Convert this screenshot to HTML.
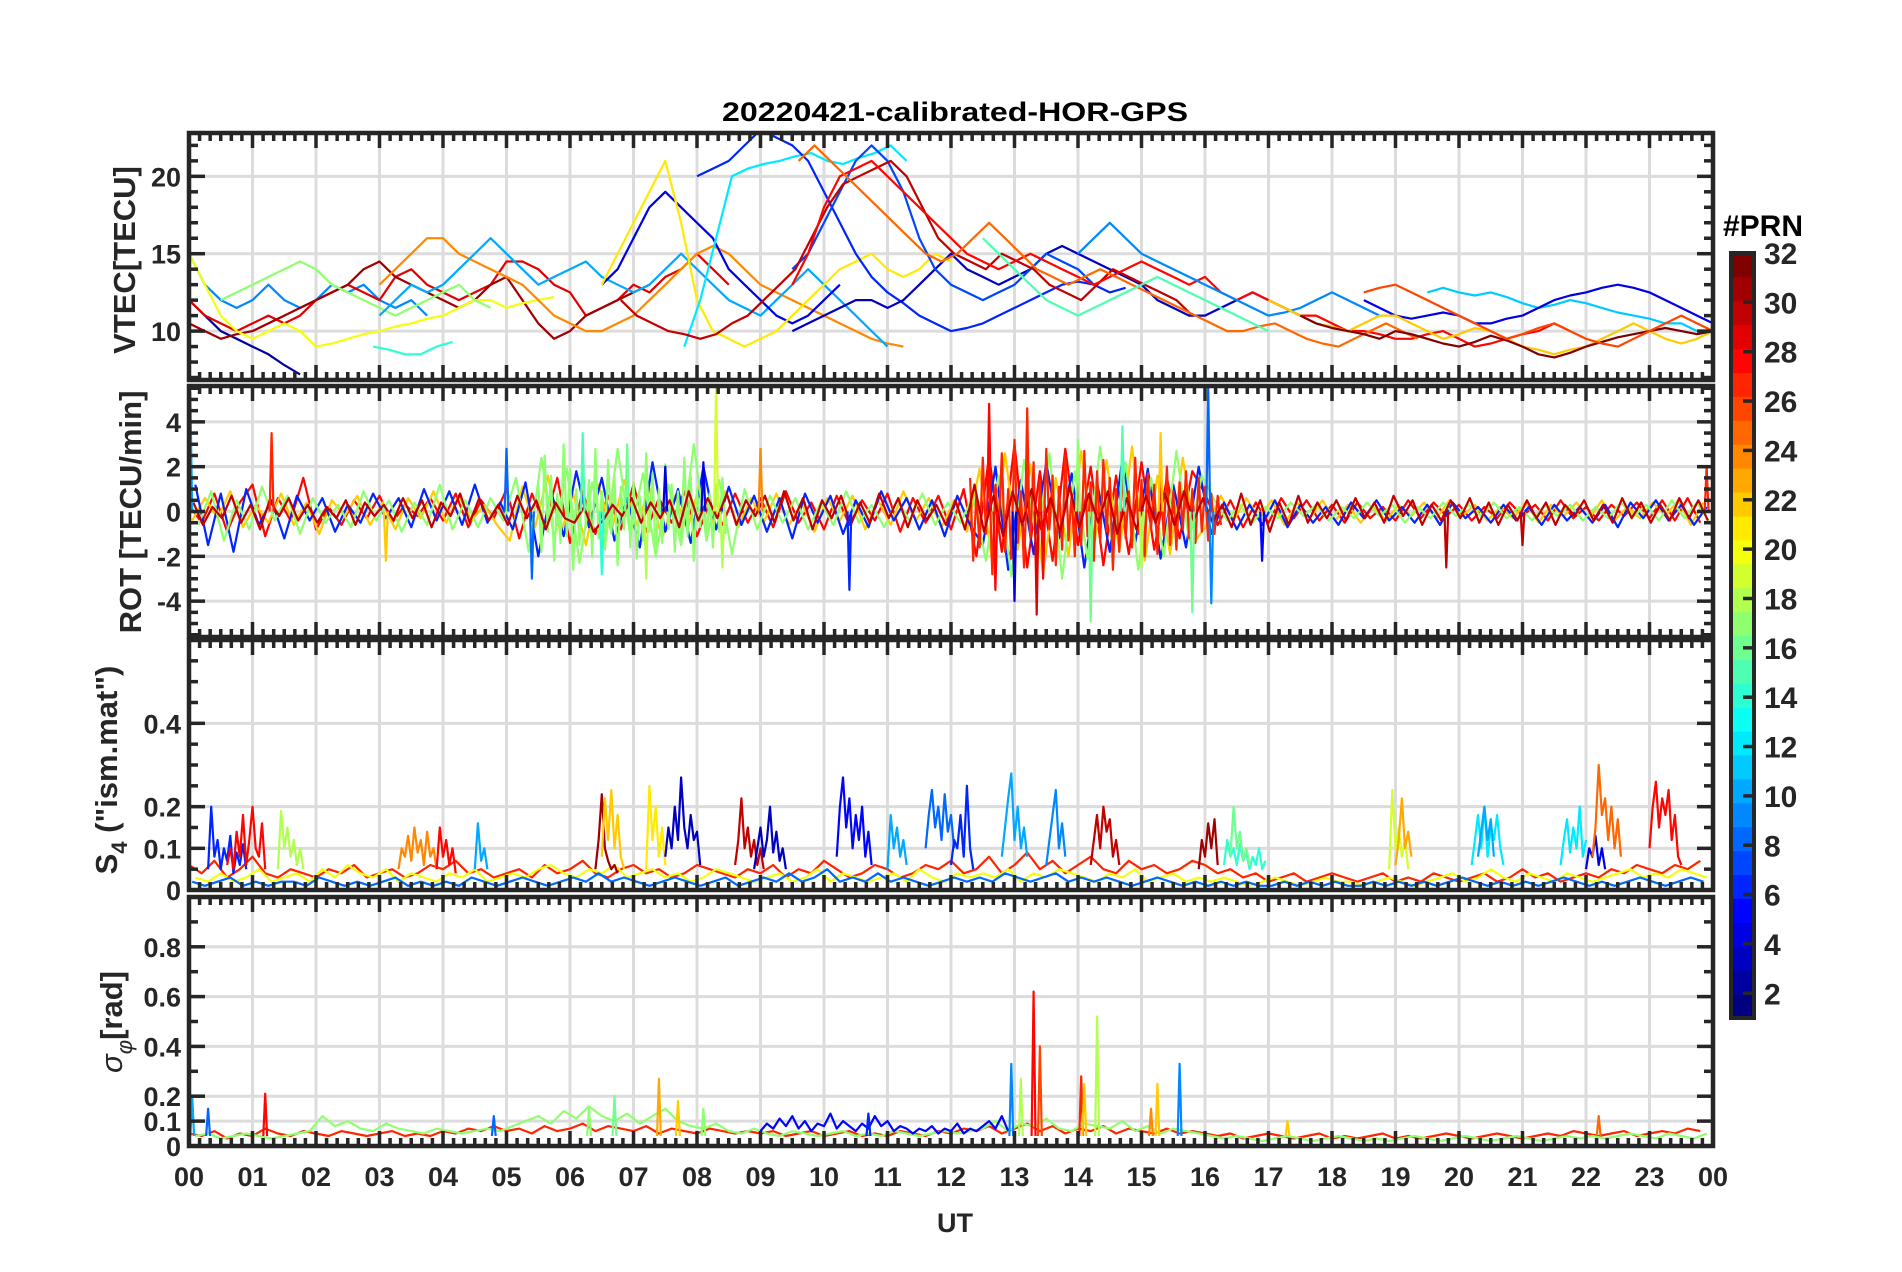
<!DOCTYPE html>
<html><head><meta charset="utf-8"><title>20220421-calibrated-HOR-GPS</title>
<style>
html,body{margin:0;padding:0;background:#fff;}
svg{display:block;font-family:"Liberation Sans",Arial,sans-serif;}
</style></head>
<body>
<svg id="fig" xmlns="http://www.w3.org/2000/svg" width="1902" height="1272" viewBox="0 0 1902 1272">
<rect x="0" y="0" width="1902" height="1272" fill="#fff"/>
<text x="955" y="121" text-anchor="middle" font-size="27" font-weight="bold" fill="#000" textLength="466" lengthAdjust="spacingAndGlyphs">20220421-calibrated-HOR-GPS</text>
<g id="panels"></g>
<text transform="translate(135,260) rotate(-90)" text-anchor="middle" font-size="31" font-weight="bold" fill="#262626">VTEC[TECU]</text>
<text transform="translate(141,512) rotate(-90)" text-anchor="middle" font-size="31" font-weight="bold" fill="#262626">ROT [TECU/min]</text>
<text transform="translate(117,770) rotate(-90)" text-anchor="middle" font-size="31" font-weight="bold" fill="#262626">S<tspan font-size="22" dy="10">4</tspan><tspan dy="-10"> ("ism.mat")</tspan></text>
<text transform="translate(122,1022) rotate(-90)" text-anchor="middle" font-size="31" font-weight="bold" fill="#262626"><tspan font-style="italic" font-weight="normal">σ</tspan><tspan font-size="22" dy="10" font-style="italic" font-weight="normal">φ</tspan><tspan dy="-10">[rad]</tspan></text>
<text x="955" y="1232" text-anchor="middle" font-size="27" font-weight="bold" fill="#262626">UT</text>
<g id="xlabels"></g>
<g id="cbar"></g>
<text x="1763" y="236" text-anchor="middle" font-size="30" font-weight="bold" fill="#000">#PRN</text>
</svg>
<script>
// ---------- data ----------
const hourTickLabels = ["00","01","02","03","04","05","06","07","08","09","10","11","12","13","14","15","16","17","18","19","20","21","22","23","00"];
const cbarTickValues = [2,4,6,8,10,12,14,16,18,20,22,24,26,28,30,32];

// VTEC series (TECU), sampled every 0.25 h from start hour
const vtecPrn = [2,9,29,31,20,17,14,24,10,4,21,12,6,3,7,30,28,25,15,9,11,4,22,32,26];
const vtecStart = [0,0,0,0,0,0.5,2.9,3,3,6.5,6.5,7.8,8,9.5,9.5,6.8,9.5,9.6,12.5,14,19.5,18.5,17,17.5,18.5];
const vtec01 = [12,11,10,9.5,9,8.5,7.8,7.2];
const vtec02 = [15,13,12,11.5,12,13,12,11.5,12,13,12.5,13,12,11.5,12,11];
const vtec03 = [12,11,10.5,10,10.5,11,10.5,11,12,12.5,13,12.5,12,13.5,14,13,12.5,12,12.5,13,14.5,14.5,14,13,12.5,11,11.5,12,13,12.5,13.5,14,15,14,13];
const vtec04 = [10.5,10,9.5,9.8,10,10.5,11,11.5,12,12.5,13,14,14.5,13.5,13,12.5,12,11.5,12,13,13.5,12,10.5,9.5,10,11,11.5,12,12.5,13];
const vtec05 = [15,13,11,10,9.5,10,10.5,10,9,9.2,9.5,9.8,10,10.3,10.5,10.8,11,11.5,12,12,11.5,11.8,12,12.2];
const vtec06 = [12,12.5,13,13.5,14,14.5,14,13,12.5,12,11.5,11,11.5,12,12.5,13,12,11.5];
const vtec07 = [9,8.8,8.5,8.5,9,9.3];
const vtec08 = [13,14,15,16,16,15,14.5,14,13.5,13,12,11,10.5,10,10,10.5,11,12,13,14,15,15.5,15,14,13,12.5,12,11.5,11,10.5,10,9.5,9.2,9];
const vtec09 = [11,12,13,12.5,13,14,15,16,15,14,13,13.5,14,14.5,13.5,13,12.5,13,14,15,14,13,12,11.5,11,12,13,14,13,12,11,10,9];
const vtec10 = [13,14,16,18,19,18,17,16,14,13,12,11,10.5,11,12,13];
const vtec11 = [13,15,17,19,21,17,12,10,9.5,9,9.5,10,11,12,13,14,14.5,15,14,13.5,14,15,14.5];
const vtec12 = [9,12,16,20,20.5,20.8,21,21.3,21.5,21,20.8,21.2,21.5,22,21];
const vtec13 = [20,20.5,21,22,23,22.5,22,21,19,17,15,13.5,12.5,11.8,11,10.5,10,10.2,10.5,11,11.5,12,12.5,13,13.2,13,12.5,12.8];
const vtec14 = [10,10.5,11,11.5,12,12,11.5,12,13,14,15,14,13.5,13,13.5,14,15,15.5,15,14.5,14,13.5,13,12,11.5,11,11,11.5,12,12.5,12,11.5,11];
const vtec15 = [14,15,17,19,21,22,21,19,16,14,13,12.5,12,12.5,13,14,15,14.5,14,13];
const vtec16 = [12,11,10.5,10,9.8,9.5,9.8,10.5,11,12,13,14,16,18,19.5,20,20.5,21,20,18,16,15,14.5,14,15,14.5,14,13,12.5,12,13,14,13.5,13,12.5,12,11];
const vtec17 = [13,15,18,20,20.5,21,20,19,18,17,16,15,14.5,14,14.5,15,14.5,14,13.5,13,13.5,14,14.5,14,13.5,13,13.5,12.5,12,12.5,12,11.5,11,11,10.5,10,10,9.8,9.5,9.5,9.8,10,9.5,9,9.2,9.5,9.8,10,10.5,10];
const vtec18 = [21,22,21,20,19,18,17,16,15,14.5,15,16,17,16,15,14,13.5,13,13.5,14,13.5,13,12.5,12,11.5,11,10.5,10,10,10.3,10.5,10,9.5,9.2,9,9.5,10,10.5,10,9.5];
const vtec19 = [16,15,14,13,12,11.5,11,11.5,12,12.5,13,13.5,13,12.5,12,11.5,11,10.5,10];
const vtec20 = [15,16,17,16,15,14.5,14,13.5,13,12.5,12,11.5,11,11.2,11.5,12,12.5,12,11.5,11];
const vtec21 = [12.5,12.8,12.5,12.3,12.5,12.2,11.8,11.5,11.7,12,11.8,11.5,11.2,11,10.8,10.5,10.5,10];
const vtec22 = [12,11.5,11,10.8,11,11.2,11,10.5,10.5,10.8,11,11.5,12,12.3,12.5,12.8,13,12.8,12.5,12,11.5,11,10.5,10,9.5,9,8.5,8,7.5,8,8.5,9,9.5,10,10.5,11];
const vtec23 = [12,11.5,11,10.5,10.3,10,10.5,11,11,10.5,10,9.5,9.8,10.2,10,9.5,9,8.8,8.5,8.8,9,9.5,10,10.5,10,9.5,9.2,9.5,10,10.5,11,11.5];
const vtec24 = [11,10.5,10.2,10,9.8,9.5,10,9.8,9.5,9.2,9,9.3,9.7,9.4,9,8.5,8.3,8.6,9,9.3,9.6,9.8,10,10.2,10,9.8,10,10.3,10.5];
const vtec25 = [12.5,12.8,13,12.5,12,11.5,11,10.5,10,9.5,9.8,10.2,10.5,10,9.5,9.2,9,9.5,10,10.5,11,10.5,10,9.5,10,10.5,11];

// ROT series (TECU/min)
const rotPrn = [28,22,6,17,30,27,17];
const rotStart = [0,0.05,0.1,0.15,0.07,12.3,5.5];
const rotStep = [0.2,0.2,0.2,0.2,0.15,0.05,0.05];
const rotA = [0.3,-0.5,0.8,-0.9,0.4,1.2,-1.1,0.6,-0.4,1.5,-0.8,0.2,-0.6,0.5,-0.3,0.7,-0.5,0.3,-0.2,0.6,-0.4,0.8,-0.7,0.5,-0.3,1.0,-1.2,0.8,-0.6,1.5,-1.4,0.9,-1.0,0.7,-0.8,1.2,-0.9,0.6,-0.5,0.9,-1.1,0.4,-0.6,0.8,-0.5,0.6,-0.7,0.9,-0.5,0.4,-0.8,0.7,-0.6,0.5,-0.4,0.8,-0.9,0.6,-0.5,0.7,-0.8,1.0,-2.0,2.5,-1.8,3.0,-2.5,1.8,-2.2,2.8,-1.5,2.0,-2.4,1.6,-1.9,2.2,-1.7,1.5,-1.2,1.8,0.8,-0.6,0.5,-0.7,0.4,-0.5,0.6,-0.3,0.5,-0.4,0.3,-0.5,0.4,-0.3,0.2,-0.4,0.5,-0.3,0.4,-0.2,0.3,-0.4,0.2,-0.3,0.4,-0.2,0.3,-0.4,0.5,-0.3,0.2,-0.4,0.3,-0.2,0.4,-0.3,0.5,-0.4,0.6,-0.5];
const rotB = [-0.4,0.6,-0.3,0.9,-0.7,0.3,-0.5,0.8,-0.6,0.4,-1.0,0.5,-0.2,0.7,-0.6,0.4,-0.8,0.6,-0.3,0.9,-0.5,0.7,-0.4,0.3,-0.6,-1.3,1.1,-0.7,1.6,-1.0,0.8,-1.5,1.2,-0.9,1.4,-0.6,1.0,-1.2,0.7,-0.8,1.3,-0.5,0.9,-0.7,0.6,-0.5,0.8,-0.6,0.4,-0.9,0.6,-0.4,0.7,-0.8,0.5,-0.6,0.9,-0.4,0.6,-0.7,0.5,-0.9,1.9,-2.3,2.6,-1.7,2.1,-2.8,1.5,-2.0,2.7,-1.6,2.3,-1.8,2.9,-2.2,1.6,-1.9,2.4,-1.3,-0.5,0.7,-0.4,0.6,-0.3,0.5,-0.6,0.4,-0.3,0.5,-0.4,0.3,-0.5,0.2,-0.4,0.3,-0.2,0.4,-0.3,0.5,-0.2,0.3,-0.4,0.2,-0.3,0.4,-0.5,0.3,-0.2,0.4,-0.3,0.5,-0.4,0.2,-0.3,0.4,-0.2,0.5,-0.6,0.4];
const rotC = [1.2,-1.5,0.8,-1.8,1.0,-0.6,0.5,-1.2,0.7,-0.4,0.6,-0.9,0.3,-0.5,0.8,-0.3,0.6,-0.7,1.0,-0.4,0.9,-0.6,1.2,-0.5,0.4,-0.8,1.3,-2.0,0.9,-1.1,1.8,-0.7,1.5,-1.3,0.6,-1.6,2.2,-0.9,1.0,-1.4,2.0,-0.8,1.1,-0.6,0.7,-0.9,0.6,-1.2,0.8,-0.5,0.7,-1.0,0.5,-0.7,0.9,-0.4,0.6,-0.8,0.5,-1.1,0.7,-0.6,-1.5,2.0,-2.6,1.4,-1.9,2.2,-1.2,1.7,-2.5,1.3,-1.8,2.4,-1.4,1.9,-2.1,1.2,-1.6,2.0,-1.0,0.4,-0.8,0.3,-0.6,0.5,-0.7,0.3,-0.5,0.2,-0.6,0.4,-0.3,0.5,-0.4,0.2,-0.5,0.3,-0.6,0.4,-0.3,0.2,-0.5,0.3,-0.4,0.2,-0.6,0.3,-0.4,0.2,-0.5,0.3,-0.7,0.4,-0.3,0.5,-0.4,0.3,-0.6,0.2];
const rotD = [-0.6,0.9,-1.3,0.5,-0.8,1.1,-0.4,0.7,-1.0,0.6,-0.5,0.3,-0.7,0.9,-0.4,0.5,-0.9,0.4,-0.6,1.2,-0.8,0.5,-0.7,0.6,-0.4,1.5,-1.8,2.4,-1.2,1.9,-2.3,1.3,-1.6,2.8,-1.1,1.7,-2.0,1.2,-1.5,3.0,-1.3,1.4,-1.9,1.0,-0.8,0.7,-0.5,0.6,-0.8,0.4,-0.6,0.9,-0.5,0.3,-0.7,0.5,-0.4,0.8,-0.6,0.4,-0.5,0.7,-2.2,1.6,-2.9,2.3,-1.4,2.6,-3.0,1.8,-2.1,2.9,-1.7,2.2,-2.6,1.5,-2.0,2.7,-1.3,1.6,0.5,-0.4,0.3,-0.5,0.2,-0.3,0.4,-0.2,0.3,-0.4,0.2,-0.3,0.4,-0.2,0.3,-0.5,0.2,-0.3,0.4,-0.2,0.3,-0.2,0.4,-0.3,0.2,-0.4,0.3,-0.2,0.3,-0.4,0.2,-0.3,0.4,-0.2,0.3,-0.4,0.5,-0.3,0.4,-0.5];
const rotE = [0.4,-0.6,0.2,-0.3,0.7,-0.5,0.3,-0.8,0.5,-0.2,0.6,-0.4,0.3,-0.5,0.2,-0.3,0.5,-0.6,0.4,-0.2,0.3,-0.4,0.6,-0.3,0.5,-0.7,0.4,-0.2,0.8,-0.5,0.6,-0.4,0.3,-0.6,0.7,-0.3,0.5,-0.8,0.4,-0.3,-0.5,0.2,-0.9,-0.4,0.3,-0.2,0.6,-0.5,0.4,-0.3,0.5,-0.7,0.9,-0.4,0.6,-0.3,0.8,-0.6,0.5,-0.2,0.7,-0.5,0.9,-0.4,0.6,-0.8,0.5,-0.3,0.7,-0.6,0.4,-0.5,0.8,-0.3,0.6,-0.7,0.5,-0.4,0.3,-0.6,0.5,-0.8,1.2,-0.9,0.7,-1.1,0.9,-0.6,1.0,-0.8,0.6,-0.9,1.1,-0.7,0.8,-0.5,0.9,-1.0,0.6,-0.8,0.7,-0.5,0.8,-0.6,0.9,-0.4,0.6,-0.5,0.3,-0.7,0.8,-0.6,0.5,-0.9,0.4,-0.6,0.7,-0.5,0.4,-0.3,0.5,-0.4,0.6,-0.3,0.4,-0.5,0.7,-0.2,0.5,-0.6,0.3,-0.4,0.5,-0.3,0.6,-0.5,0.4,-0.6,0.3,-0.4,0.5,-0.3,0.4,-0.6,0.3,-0.2,0.5,-0.4,0.3,-0.5,0.6,-0.3,0.4,-0.5,0.3,-0.4,0.6,-0.3,0.5,-0.4];
const rotF = [1.5,-2.2,0.8,-1.6,2.4,-1.0,1.9,-2.8,1.2,-0.9,2.6,-1.8,1.0,-2.1,3.2,-1.4,0.9,-2.5,1.7,-1.2,2.2,-3.1,1.4,-1.9,2.8,-0.8,1.6,-2.4,1.1,-1.7,2.5,-1.3,0.8,-2.0,1.9,-1.5,2.7,-1.1,1.3,-2.2,1.8,-1.4,2.3,-0.9,1.5,-2.6,1.0,-1.8,2.1,-1.2,0.9,-1.6,2.4,-1.0,1.4,-2.0,1.7,-0.8,1.2,-1.9,1.6,-1.1,2.0,-1.5,0.9,-1.7,1.3,-0.8,1.8,-1.2,1.0,-1.4,1.5,-0.9,1.1,-1.3,0.8,-1.0,0.7,-0.6];
const rotG = [1.2,-1.8,2.5,-0.9,1.6,-2.2,0.8,-1.4,3.0,-1.1,1.9,-2.6,1.0,-1.5,2.2,-0.7,1.4,-2.0,2.8,-1.2,0.9,-1.7,2.3,-1.0,1.5,-2.4,1.1,-0.8,2.0,-1.6,1.3,-2.1,0.7,-1.3,2.6,-0.9,1.7,-1.9,1.0,-1.4,2.1,-0.8,1.2,-1.8,0.9,-1.5,2.4,-1.1,1.6,-2.2,1.0,-0.7,1.8,-1.3,0.8,-1.6,1.2,-0.9,1.5,-1.0];
// ROT spikes: hour, value, prn
const rotSpikeHour = [0.02,1.3,3.1,5.0,5.4,6.2,6.5,6.9,7.2,7.5,8.1,8.3,8.4,9.0,10.4,12.6,12.7,13.0,13.2,13.35,13.45,14.0,14.2,14.7,15.0,15.3,15.8,16.05,16.1,16.9,19.8,21.0,23.9];
const rotSpikeValue = [5.3,3.5,-2.2,2.8,-3,3.5,-2.8,3.0,-3,2.0,2.2,5.6,-2.5,2.8,-3.5,4.8,-3.5,-4.0,4.6,-4.6,-3.0,3.2,-4.9,3.8,-2.5,3.5,-4.5,5.6,-4.1,-2.2,-2.5,-1.5,2.0];
const rotSpikePrn = [10,27,22,8,8,15,14,16,18,4,4,19,18,24,6,28,28,4,27,29,28,17,16,15,18,22,16,8,9,5,30,30,27];

// S4 background series, every 0.2 h
const s4BgPrn = [27,20,8];
const s4BgStart = [0,0.1,0.05];
const s4A = [0.06,0.04,0.07,0.03,0.05,0.08,0.04,0.03,0.05,0.04,0.03,0.05,0.04,0.06,0.03,0.04,0.05,0.03,0.04,0.06,0.05,0.07,0.04,0.05,0.03,0.04,0.05,0.03,0.06,0.04,0.05,0.07,0.04,0.03,0.05,0.06,0.04,0.05,0.03,0.04,0.06,0.05,0.04,0.03,0.05,0.04,0.06,0.03,0.05,0.04,0.07,0.05,0.03,0.04,0.06,0.05,0.03,0.04,0.06,0.05,0.07,0.04,0.05,0.08,0.04,0.06,0.09,0.05,0.07,0.04,0.06,0.08,0.05,0.04,0.07,0.05,0.06,0.04,0.05,0.07,0.06,0.04,0.05,0.03,0.04,0.02,0.03,0.04,0.02,0.03,0.04,0.03,0.02,0.03,0.04,0.02,0.03,0.02,0.04,0.03,0.02,0.03,0.04,0.02,0.03,0.05,0.03,0.04,0.02,0.03,0.04,0.03,0.05,0.04,0.06,0.05,0.04,0.06,0.05,0.07];
const s4B = [0.03,0.02,0.04,0.02,0.03,0.05,0.02,0.03,0.04,0.02,0.05,0.03,0.06,0.04,0.03,0.05,0.02,0.04,0.03,0.02,0.04,0.03,0.05,0.02,0.03,0.04,0.03,0.05,0.06,0.04,0.03,0.05,0.04,0.06,0.03,0.04,0.05,0.03,0.04,0.02,0.03,0.05,0.04,0.03,0.02,0.03,0.04,0.02,0.03,0.05,0.02,0.04,0.03,0.02,0.03,0.04,0.02,0.05,0.03,0.02,0.04,0.03,0.04,0.03,0.05,0.02,0.04,0.03,0.05,0.04,0.03,0.02,0.04,0.03,0.05,0.02,0.03,0.04,0.02,0.03,0.02,0.03,0.02,0.01,0.02,0.03,0.02,0.01,0.02,0.03,0.02,0.02,0.01,0.02,0.03,0.02,0.01,0.02,0.03,0.04,0.02,0.03,0.05,0.03,0.02,0.04,0.03,0.02,0.04,0.03,0.02,0.03,0.04,0.05,0.03,0.04,0.03,0.05,0.04,0.03];
const s4C = [0.02,0.01,0.02,0.03,0.01,0.02,0.01,0.02,0.02,0.01,0.03,0.02,0.01,0.02,0.01,0.02,0.03,0.01,0.02,0.01,0.02,0.01,0.03,0.02,0.01,0.02,0.03,0.02,0.01,0.02,0.03,0.02,0.04,0.02,0.03,0.02,0.01,0.02,0.03,0.02,0.01,0.02,0.03,0.01,0.02,0.03,0.02,0.04,0.02,0.03,0.05,0.02,0.03,0.02,0.04,0.02,0.03,0.02,0.01,0.02,0.03,0.02,0.03,0.02,0.04,0.03,0.02,0.03,0.04,0.02,0.03,0.02,0.03,0.02,0.01,0.02,0.03,0.02,0.01,0.02,0.01,0.02,0.01,0.02,0.01,0.01,0.02,0.01,0.02,0.01,0.02,0.01,0.01,0.02,0.01,0.02,0.01,0.02,0.01,0.02,0.03,0.02,0.01,0.02,0.01,0.02,0.01,0.02,0.03,0.02,0.01,0.02,0.01,0.02,0.03,0.02,0.01,0.02,0.03,0.02];
// S4 bursts, every 0.05 h
const s4BurstPrn = [6,28,18,24,28,10,31,22,21,3,30,3,5,10,8,6,10,9,30,31,14,16,19,23,12,10,12,4,25,28];
const s4BurstStart = [0.3,0.6,1.4,3.3,3.9,4.5,6.4,6.5,7.2,7.5,8.6,8.9,10.2,11.0,11.6,12.0,12.8,13.5,14.2,15.9,16.3,16.4,18.9,19.0,20.2,20.3,21.6,22.0,22.1,23.0];
const s4Burst01 = [0.05,0.2,0.08,0.12,0.05,0.1,0.07,0.13,0.04,0.09,0.06,0.11,0.05];
const s4Burst02 = [0.06,0.1,0.05,0.14,0.08,0.18,0.06,0.12,0.2,0.1,0.08,0.16,0.05];
const s4Burst03 = [0.05,0.19,0.1,0.15,0.08,0.12,0.06,0.1,0.05];
const s4Burst04 = [0.05,0.1,0.08,0.13,0.07,0.15,0.09,0.12,0.06,0.14,0.08,0.1,0.05];
const s4Burst05 = [0.05,0.15,0.08,0.12,0.06,0.1,0.04];
const s4Burst06 = [0.05,0.16,0.07,0.1,0.05];
const s4Burst07 = [0.05,0.12,0.23,0.1,0.07,0.05,0.06,0.04];
const s4Burst08 = [0.08,0.22,0.12,0.24,0.1,0.18,0.08,0.05];
const s4Burst09 = [0.05,0.25,0.12,0.2,0.08,0.15,0.06];
const s4Burst10 = [0.08,0.15,0.1,0.2,0.12,0.27,0.15,0.1,0.18,0.12,0.14,0.06];
const s4Burst11 = [0.06,0.12,0.22,0.1,0.15,0.08,0.12,0.06,0.1,0.05];
const s4Burst12 = [0.05,0.1,0.15,0.08,0.12,0.2,0.09,0.14,0.07,0.1,0.05];
const s4Burst13 = [0.08,0.2,0.27,0.15,0.22,0.1,0.18,0.12,0.2,0.08,0.14,0.06];
const s4Burst14 = [0.05,0.18,0.1,0.15,0.08,0.12,0.06];
const s4Burst15 = [0.1,0.18,0.24,0.15,0.2,0.12,0.23,0.14,0.18,0.1];
const s4Burst16 = [0.06,0.12,0.1,0.18,0.08,0.25,0.1,0.05];
const s4Burst17 = [0.08,0.15,0.22,0.28,0.12,0.2,0.1,0.15,0.08];
const s4Burst18 = [0.06,0.12,0.18,0.24,0.1,0.16,0.08];
const s4Burst19 = [0.06,0.12,0.18,0.1,0.2,0.14,0.17,0.08,0.12,0.06];
const s4Burst20 = [0.05,0.12,0.08,0.16,0.1,0.17,0.06];
const s4Burst21 = [0.06,0.12,0.08,0.1,0.06,0.11,0.07,0.09,0.05,0.08,0.06,0.1,0.05,0.07];
const s4Burst22 = [0.08,0.2,0.1,0.14,0.07,0.1,0.06];
const s4Burst23 = [0.05,0.24,0.1,0.15,0.08,0.12,0.05];
const s4Burst24 = [0.06,0.12,0.22,0.1,0.14,0.08];
const s4Burst25 = [0.06,0.12,0.18,0.1,0.2,0.08,0.15,0.12,0.18,0.1,0.06];
const s4Burst26 = [0.08,0.14,0.2,0.12,0.17,0.08];
const s4Burst27 = [0.06,0.12,0.17,0.09,0.15,0.1,0.2,0.08,0.12];
const s4Burst28 = [0.05,0.1,0.08,0.13,0.06,0.1,0.05];
const s4Burst29 = [0.08,0.15,0.3,0.18,0.22,0.12,0.2,0.1,0.17,0.08];
const s4Burst30 = [0.1,0.2,0.26,0.15,0.22,0.18,0.24,0.12,0.18,0.08,0.06];

// sigma-phi series (rad)
const sigPrn = [27,17,5];
const sigStart = [0,0.1,9];
const sigStep = [0.2,0.2,0.1];
const sigA = [0.05,0.04,0.06,0.03,0.05,0.04,0.07,0.05,0.04,0.06,0.05,0.04,0.06,0.05,0.04,0.05,0.06,0.04,0.05,0.04,0.06,0.05,0.07,0.06,0.08,0.06,0.07,0.05,0.08,0.06,0.07,0.09,0.06,0.08,0.07,0.06,0.08,0.05,0.07,0.06,0.05,0.07,0.06,0.05,0.06,0.05,0.06,0.04,0.05,0.06,0.04,0.05,0.06,0.04,0.05,0.04,0.06,0.05,0.04,0.06,0.05,0.07,0.06,0.08,0.05,0.07,0.09,0.06,0.08,0.05,0.07,0.06,0.08,0.05,0.07,0.06,0.05,0.07,0.05,0.06,0.05,0.04,0.05,0.03,0.04,0.05,0.04,0.03,0.04,0.05,0.03,0.04,0.03,0.04,0.05,0.03,0.04,0.03,0.04,0.05,0.04,0.03,0.04,0.05,0.04,0.03,0.04,0.05,0.04,0.06,0.05,0.04,0.05,0.06,0.04,0.05,0.06,0.05,0.07,0.06];
const sigB = [0.04,0.05,0.03,0.04,0.05,0.04,0.03,0.04,0.05,0.06,0.12,0.08,0.1,0.07,0.06,0.09,0.07,0.06,0.05,0.07,0.06,0.05,0.06,0.07,0.06,0.08,0.1,0.12,0.09,0.14,0.11,0.16,0.12,0.1,0.13,0.09,0.12,0.15,0.1,0.08,0.07,0.09,0.06,0.05,0.07,0.05,0.04,0.06,0.05,0.04,0.05,0.06,0.04,0.05,0.04,0.06,0.05,0.04,0.05,0.06,0.05,0.06,0.07,0.1,0.06,0.09,0.08,0.11,0.07,0.06,0.09,0.08,0.07,0.1,0.06,0.08,0.05,0.07,0.06,0.05,0.04,0.03,0.04,0.03,0.02,0.03,0.04,0.03,0.02,0.03,0.04,0.03,0.02,0.03,0.02,0.03,0.04,0.03,0.02,0.03,0.04,0.03,0.02,0.03,0.04,0.03,0.02,0.03,0.04,0.03,0.04,0.03,0.04,0.05,0.04,0.03,0.05,0.04,0.03,0.05];
const sigC = [0.06,0.09,0.07,0.11,0.08,0.12,0.07,0.1,0.06,0.09,0.08,0.13,0.07,0.1,0.08,0.06,0.09,0.07,0.12,0.08,0.1,0.06,0.08,0.07,0.05,0.07,0.06,0.08,0.05,0.07,0.06,0.09,0.05,0.07,0.06,0.08,0.1,0.07,0.12,0.06];
const sigSpikeHour = [0.05,0.3,1.2,4.8,6.3,6.7,7.4,7.7,8.1,10.7,12.95,13.1,13.3,13.4,14.05,14.1,14.3,15.15,15.25,15.6,17.3,22.2];
const sigSpikeValue = [0.2,0.15,0.21,0.12,0.15,0.2,0.27,0.18,0.15,0.13,0.33,0.27,0.62,0.4,0.28,0.25,0.52,0.15,0.25,0.33,0.1,0.12];
const sigSpikePrn = [10,8,28,8,17,16,23,22,17,6,9,18,28,26,27,22,18,24,22,9,22,25];

// ---------- layout ----------
const NS = "http://www.w3.org/2000/svg";
const X0 = 189, X1 = 1713;
const panels = [
  {name:"vtec", top:133, bot:380, min:6.84, max:22.8, ticks:[10,15,20], labels:["10","15","20"], minor:1},
  {name:"rot", top:386, bot:637, min:-5.6, max:5.6, ticks:[-4,-2,0,2,4], labels:["-4","-2","0","2","4"], minor:0.5},
  {name:"s4", top:640, bot:890, min:0, max:0.6, ticks:[0,0.1,0.2,0.4], labels:["0","0.1","0.2","0.4"], minor:0.05},
  {name:"sigma", top:897, bot:1146, min:0, max:1, ticks:[0,0.1,0.2,0.4,0.6,0.8], labels:["0","0.1","0.2","0.4","0.6","0.8"], minor:0.1}
];
function xScale(h){ return X0 + h*(X1-X0)/24; }
function yScale(p,v){ return p.bot - (v-p.min)/(p.max-p.min)*(p.bot-p.top); }
function jet(prn){
  const v=(prn-1)/31;
  const c=t=>Math.round(255*Math.max(0,Math.min(1,t)));
  return `rgb(${c(1.5-Math.abs(4*v-3))},${c(1.5-Math.abs(4*v-2))},${c(1.5-Math.abs(4*v-1))})`;
}
function mk(tag,attrs,parent){ const e=document.createElementNS(NS,tag); for(const k in attrs) e.setAttribute(k,attrs[k]); parent.appendChild(e); return e; }

const root = document.getElementById("panels");
const layers = [];
panels.forEach((p,i)=>{
  const g = mk("g",{},root);
  
  
  const cp = mk("clipPath",{id:"clip"+i},g);
  mk("rect",{x:X0,y:p.top,width:X1-X0,height:p.bot-p.top},cp);
  const grid = mk("g",{stroke:"#dcdcdc","stroke-width":"3"},g);
  
  
  for(let h=1;h<24;h++) mk("line",{x1:xScale(h),x2:xScale(h),y1:p.top,y2:p.bot},grid);
  p.ticks.forEach(t=>{ const y=yScale(p,t); if(y>p.top+2&&y<p.bot-2) mk("line",{x1:X0,x2:X1,y1:y,y2:y},grid); });
  const data = mk("g",{"clip-path":`url(#clip${i})`,fill:"none","stroke-width":"2.2","stroke-linejoin":"round"},g);
  
  
  layers.push({g,data,p});
});

function drawSeries(L, prn, t0, dt, vals, name){
  const pts = vals.map((v,k)=>xScale(t0+k*dt).toFixed(1)+","+yScale(L.p,v).toFixed(1)).join(" ");
  const pl = mk("polyline",{points:pts,stroke:jet(prn)},L.data);
  
  
}
function drawSpike(L, prn, h, v, base, w, name){
  const pts = [[h-w,base],[h,v],[h+w,base]].map(q=>xScale(q[0]).toFixed(1)+","+yScale(L.p,q[1]).toFixed(1)).join(" ");
  const pl = mk("polyline",{points:pts,stroke:jet(prn)},L.data);
  
  
}

// VTEC
const vtecVals=[vtec01,vtec02,vtec03,vtec04,vtec05,vtec06,vtec07,vtec08,vtec09,vtec10,vtec11,vtec12,vtec13,vtec14,vtec15,vtec16,vtec17,vtec18,vtec19,vtec20,vtec21,vtec22,vtec23,vtec24,vtec25];
vtecVals.forEach((v,k)=>drawSeries(layers[0],vtecPrn[k],vtecStart[k],0.25,v,'vtec-prn'+vtecPrn[k]));
// ROT
[rotA,rotB,rotC,rotD,rotG,rotF,rotE].forEach((v,k)=>{
  const idx=[0,1,2,3,6,5,4][k];
  drawSeries(layers[1],rotPrn[idx],rotStart[idx],rotStep[idx],v,'rot-prn'+rotPrn[idx]);
});
rotSpikeHour.forEach((h,k)=>drawSpike(layers[1],rotSpikePrn[k],h,rotSpikeValue[k],0,0.03,'rot-spike'));
// S4
[s4A,s4B,s4C].forEach((v,k)=>drawSeries(layers[2],s4BgPrn[k],s4BgStart[k],0.2,v,'s4-prn'+s4BgPrn[k]));
const s4Bursts=[s4Burst01,s4Burst02,s4Burst03,s4Burst04,s4Burst05,s4Burst06,s4Burst07,s4Burst08,s4Burst09,s4Burst10,s4Burst11,s4Burst12,s4Burst13,s4Burst14,s4Burst15,s4Burst16,s4Burst17,s4Burst18,s4Burst19,s4Burst20,s4Burst21,s4Burst22,s4Burst23,s4Burst24,s4Burst25,s4Burst26,s4Burst27,s4Burst28,s4Burst29,s4Burst30];
s4Bursts.forEach((v,k)=>drawSeries(layers[2],s4BurstPrn[k],s4BurstStart[k],0.05,v,'s4-burst-prn'+s4BurstPrn[k]));
// sigma
[sigA,sigB,sigC].forEach((v,k)=>drawSeries(layers[3],sigPrn[k],sigStart[k],sigStep[k],v,'sigma-prn'+sigPrn[k]));
sigSpikeHour.forEach((h,k)=>drawSpike(layers[3],sigSpikePrn[k],h,sigSpikeValue[k],0.04,0.03,'sigma-spike'));

// axes: frame, ticks, labels
layers.forEach(L=>{
  const p=L.p, g=L.g;
  const ax = mk("g",{stroke:"#262626","stroke-width":"3.5"},g);
  
  
  for(let m=0;m<=24*6;m++){
    const x=xScale(m/6), len=(m%6===0)?15:8;
    mk("line",{x1:x,x2:x,y1:p.top,y2:p.top+len},ax);
    mk("line",{x1:x,x2:x,y1:p.bot,y2:p.bot-len},ax);
  }
  const nMinor=Math.round((p.max-p.min)/p.minor)+2;
  const start=Math.ceil(p.min/p.minor-1e-6);
  for(let k=start;k<start+nMinor;k++){
    const v=k*p.minor; if(v>p.max+1e-9) break;
    const y=yScale(p,v);
    const major=p.ticks.some(t=>Math.abs(t-v)<1e-6), len=major?16:9;
    mk("line",{x1:X0,x2:X0+len,y1:y,y2:y},ax);
    mk("line",{x1:X1,x2:X1-len,y1:y,y2:y},ax);
  }
  mk("rect",{x:X0,y:p.top,width:X1-X0,height:p.bot-p.top,fill:"none","stroke-width":"4.5"},ax);
  p.ticks.forEach((t,k)=>{
    const tx=mk("text",{x:X0-8,y:yScale(p,t)+10,"text-anchor":"end","font-size":"27","font-weight":"bold",fill:"#262626"},g);
    tx.textContent=p.labels[k];
    
    
  });
});
const xl=document.getElementById("xlabels");
hourTickLabels.forEach((s,k)=>{
  const t=mk("text",{x:xScale(k),y:1186,"text-anchor":"middle","font-size":"27","font-weight":"bold",fill:"#262626"},xl);
  t.textContent=s;
  
  
});

// colorbar
const cb=document.getElementById("cbar");
const CBX=1731, CBW=23, CBT=253, CBB=1018;
function cbY(v){ return CBB-(v-1)/31*(CBB-CBT); }
for(let k=1;k<=32;k++){
  const y0=CBB-(k-1)*(CBB-CBT)/32, y1=CBB-k*(CBB-CBT)/32;
  const r=mk("rect",{x:CBX,y:y1,width:CBW,height:y0-y1+0.5,fill:jet(k)},cb);
  
  
}
mk("rect",{x:CBX,y:CBT,width:CBW,height:CBB-CBT,fill:"none",stroke:"#262626","stroke-width":"4"},cb);
cbarTickValues.forEach(v=>{
  const y=cbY(v);
  mk("line",{x1:CBX+CBW,x2:CBX+CBW-11,y1:y,y2:y,stroke:"#262626","stroke-width":"3.5"},cb);
  const t=mk("text",{x:CBX+CBW+10,y:y+11,"font-size":"30","font-weight":"bold",fill:"#262626"},cb);
  t.textContent=String(v);
  
  
});
</script>
</body></html>
